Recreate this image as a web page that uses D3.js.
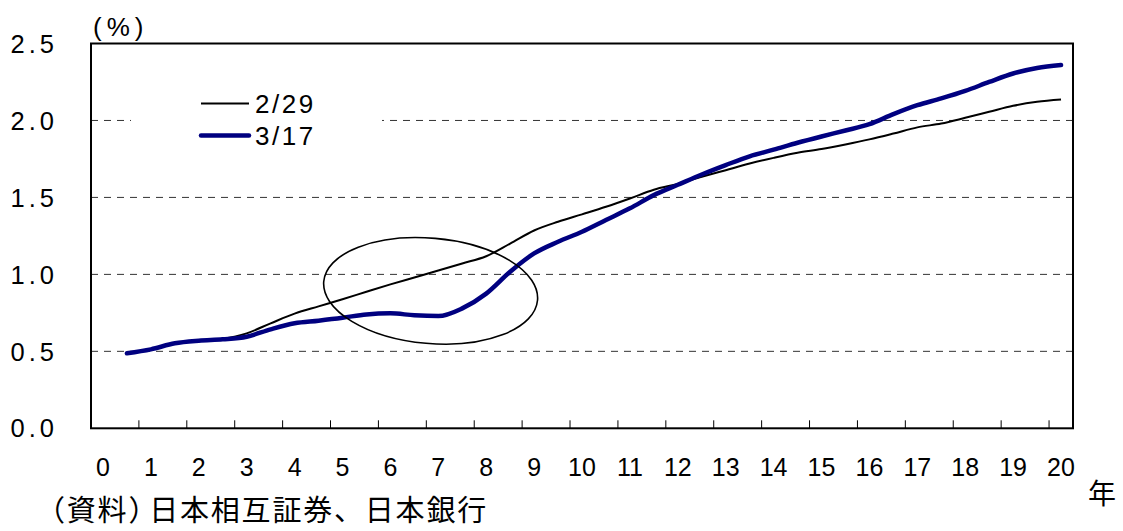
<!DOCTYPE html>
<html>
<head>
<meta charset="utf-8">
<script src="https://cdn.jsdelivr.net/npm/d3@7"></script>
<style>
  html, body { margin: 0; padding: 0; background: #fff; }
  svg { display: block; }
  text { font-family: "Liberation Sans", Arial, sans-serif; fill: #000; }
  .cjk { font-family: "Noto Sans CJK JP", "Noto Sans", sans-serif; }
</style>
</head>
<body>
<svg id="chart" width="1123" height="531"></svg>
<script>
// Maturity in years (semi-annual points)
const maturities = [0.5, 1, 1.5, 2, 2.5, 3, 3.5, 4, 4.5, 5, 5.5, 6, 6.5, 7, 7.5, 8, 8.5, 9, 9.5, 10,
                    10.5, 11, 11.5, 12, 12.5, 13, 13.5, 14, 14.5, 15, 15.5, 16, 16.5, 17, 17.5, 18, 18.5, 19, 19.5, 20];

// Yield curve on 2/29 (%)
const curveFeb29 = [0.487, 0.513, 0.552, 0.569, 0.582, 0.617, 0.682, 0.745, 0.792, 0.838,
                    0.887, 0.935, 0.980, 1.025, 1.071, 1.118, 1.200, 1.285, 1.342, 1.390,
                    1.439, 1.493, 1.550, 1.588, 1.634, 1.677, 1.720, 1.757, 1.790, 1.814,
                    1.844, 1.877, 1.915, 1.955, 1.980, 2.017, 2.056, 2.095, 2.121, 2.136];

// Yield curve on 3/17 (%)
const curveMar17 = [0.487, 0.513, 0.552, 0.569, 0.578, 0.595, 0.643, 0.682, 0.699, 0.718,
                    0.740, 0.747, 0.734, 0.729, 0.779, 0.875, 1.017, 1.136, 1.212, 1.277,
                    1.353, 1.429, 1.515, 1.582, 1.649, 1.710, 1.767, 1.810, 1.855, 1.896,
                    1.935, 1.976, 2.041, 2.099, 2.143, 2.192, 2.250, 2.305, 2.341, 2.360];

const seriesNames = ["2/29", "3/17"];
const xTickLabels = ["0","1","2","3","4","5","6","7","8","9","10","11","12","13","14","15","16","17","18","19","20"];
const yTicks = [0.0, 0.5, 1.0, 1.5, 2.0, 2.5];
const unitLabel = "(%)";
const xUnitLabel = "年";
const sourceHead = "（資料）";
const sourceBody = "日本相互証券、日本銀行";

// Highlighted region (data units): centre year, centre yield, radii
const highlightCentre = [6.84, 0.893];
const highlightRadii = [2.24, 0.342];
const highlightTilt = 5;

const svg = d3.select("#chart");

const plot = { left: 91, right: 1073, top: 43.5, bottom: 428.3 };

// 41 categories (0, 0.5, ..., 20) spread evenly across the plot width
const x = d3.scaleLinear().domain([-0.25, 20.25]).range([plot.left, plot.right]);
const y = d3.scaleLinear().domain([0, 2.5]).range([plot.bottom, plot.top]);

// Dashed gridlines
svg.append("g")
  .selectAll("line")
  .data(yTicks.filter(d => d > 0 && d < 2.5))
  .join("line")
  .attr("x1", plot.left).attr("x2", plot.right)
  .attr("y1", d => y(d)).attr("y2", d => y(d))
  .attr("stroke", "#333")
  .attr("stroke-width", 1)
  .attr("stroke-dasharray", "7,6");

// Legend background hides the gridline behind it
const legend = svg.append("g");
legend.append("rect")
  .attr("x", 131).attr("y", 84).attr("width", 251).attr("height", 72)
  .attr("fill", "#fff");

// Category tick marks (between groups of two half-year points), pointing inward
const tickPositions = d3.range(1, 21).map(k => -0.25 + k);
svg.append("g")
  .selectAll("line")
  .data(tickPositions)
  .join("line")
  .attr("x1", d => x(d)).attr("x2", d => x(d))
  .attr("y1", plot.bottom).attr("y2", plot.bottom - 8)
  .attr("stroke", "#000").attr("stroke-width", 1);

// Lines
const line = d3.line()
  .x((d, i) => x(maturities[i]))
  .y(d => y(d))
  .curve(d3.curveMonotoneX);

svg.append("path")
  .datum(curveFeb29)
  .attr("d", line)
  .attr("fill", "none")
  .attr("stroke", "#000")
  .attr("stroke-width", 2)
  .attr("stroke-linejoin", "round");

svg.append("path")
  .datum(curveMar17)
  .attr("d", line)
  .attr("fill", "none")
  .attr("stroke", "#000080")
  .attr("stroke-width", 4.5)
  .attr("stroke-linejoin", "round")
  .attr("stroke-linecap", "round");

// Ellipse around the mid-maturity dip
const cx = x(highlightCentre[0]), cy = y(highlightCentre[1]);
svg.append("ellipse")
  .attr("cx", cx).attr("cy", cy)
  .attr("rx", x(highlightRadii[0]) - x(0))
  .attr("ry", y(0) - y(highlightRadii[1]))
  .attr("transform", `rotate(${highlightTilt},${cx},${cy})`)
  .attr("fill", "none")
  .attr("stroke", "#000")
  .attr("stroke-width", 1.6);

// Plot frame
svg.append("rect")
  .attr("x", plot.left).attr("y", plot.top)
  .attr("width", plot.right - plot.left)
  .attr("height", plot.bottom - plot.top)
  .attr("fill", "none")
  .attr("stroke", "#000")
  .attr("stroke-width", 2);

// Y axis labels
svg.append("g")
  .selectAll("text")
  .data(yTicks)
  .join("text")
  .attr("x", 58)
  .attr("y", d => y(d))
  .attr("dy", "0.36em")
  .attr("text-anchor", "end")
  .attr("font-size", 25.5)
  .attr("letter-spacing", 4)
  .text(d => d3.format(".1f")(d));

// X axis labels
svg.append("g")
  .selectAll("text")
  .data(xTickLabels)
  .join("text")
  .attr("x", d => x(+d))
  .attr("y", 467)
  .attr("dy", "0.36em")
  .attr("text-anchor", "middle")
  .attr("font-size", 25)
  .text(d => d);

// Unit labels
svg.append("text")
  .attr("x", 93).attr("y", 27).attr("dy", "0.36em")
  .attr("font-size", 26)
  .attr("letter-spacing", 5)
  .text(unitLabel);

svg.append("text")
  .attr("class", "cjk")
  .attr("x", 1088).attr("y", 494).attr("dy", "0.36em")
  .attr("font-size", 28)
  .text(xUnitLabel);

// Source note
const note = svg.append("text")
  .attr("class", "cjk")
  .attr("x", 36).attr("y", 511).attr("dy", "0.36em")
  .attr("font-size", 29)
  .attr("letter-spacing", 1.8);
note.append("tspan").text(sourceHead);
note.append("tspan").attr("dx", -10).text(sourceBody);

// Legend entries
const legendItems = [
  { name: seriesNames[0], color: "#000", width: 2, yPos: 103.5 },
  { name: seriesNames[1], color: "#000080", width: 4.5, yPos: 135.5 }
];
legendItems.forEach(item => {
  legend.append("line")
    .attr("x1", 201).attr("x2", 249)
    .attr("y1", item.yPos).attr("y2", item.yPos)
    .attr("stroke", item.color).attr("stroke-width", item.width)
    .attr("stroke-linecap", item.width > 3 ? "round" : "butt");
  legend.append("text")
    .attr("x", 255).attr("y", item.yPos).attr("dy", "0.36em")
    .attr("font-size", 26)
    .attr("letter-spacing", 2.5)
    .text(item.name);
});
</script>
</body>
</html>
